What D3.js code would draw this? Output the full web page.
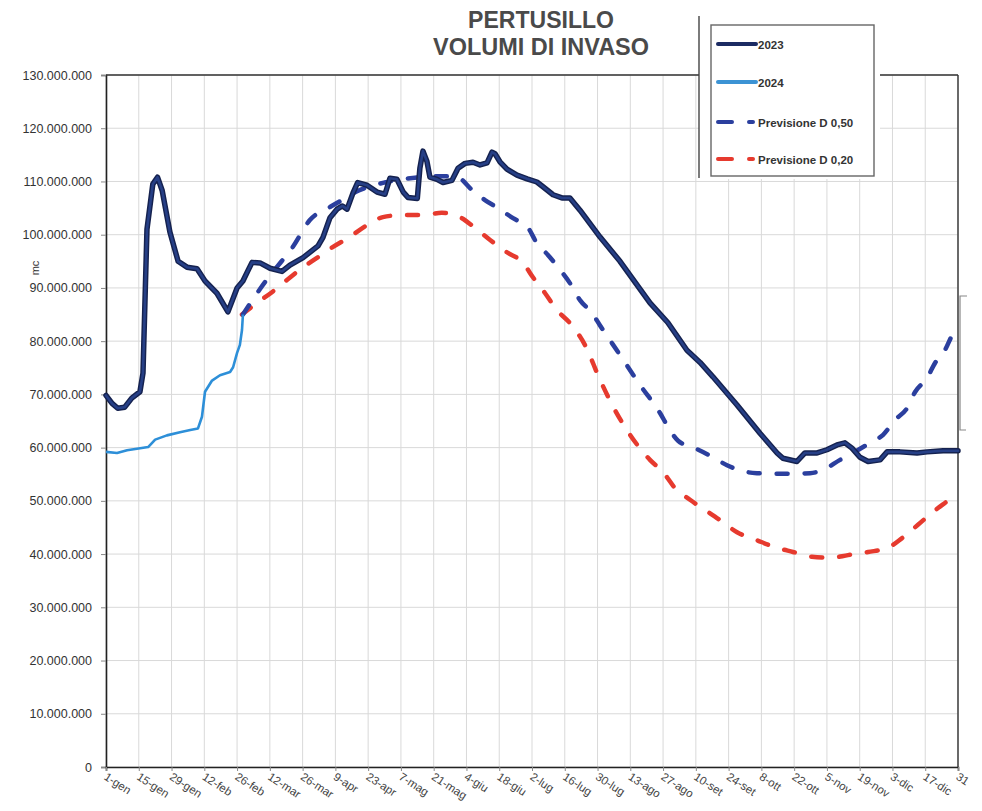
<!DOCTYPE html>
<html><head><meta charset="utf-8">
<script src="https://cdn.jsdelivr.net/npm/d3@7"></script>
<style>body{margin:0;background:#fff}svg{display:block}</style>
</head><body>
<svg id="chart" width="982" height="811"></svg>
<script>
// ---------- DATA ----------
const titleLines = ["PERTUSILLO", "VOLUMI DI INVASO"];
const yAxisLabel = "mc";
const xTickDays = [0,14,28,42,56,70,84,98,112,126,140,154,168,182,196,210,224,238,252,266,280,294,308,322,336,350,364];
const xTickLabels = ["1-gen","15-gen","29-gen","12-feb","26-feb","12-mar","26-mar","9-apr","23-apr","7-mag","21-mag","4-giu","18-giu","2-lug","16-lug","30-lug","13-ago","27-ago","10-set","24-set","8-ott","22-ott","5-nov","19-nov","3-dic","17-dic","31"];
const yTickValues = [0,10,20,30,40,50,60,70,80,90,100,110,120,130]; // milioni di mc
const legendLabels = ["2023","2024","Previsione D 0,50","Previsione D 0,20"];

const days2023 = [0,2.6,5,8,11,14.5,15.8,17.5,20,22,24,27.3,30.8,34.6,38.9,42.3,47.4,52.1,56,58.5,60.7,62.4,65.8,70.1,75.2,78.6,84.2,90.6,92.7,95.7,98.7,101,103,105.5,107.5,111.5,115.8,119.2,121.3,124.3,127,129,133,134.1,135.4,137.1,138.4,141.4,144,147.8,150.4,153.4,156.8,159.8,162.8,164.9,166.2,168.3,171.3,175.6,179.9,184.1,186.7,191,194.8,198.2,202.5,211,219.6,232.4,240,248.2,253.8,259.3,269.6,279.4,286.7,289.2,295.2,298.6,303.8,308,312.3,315.7,318.7,322.1,325.6,330.7,333.7,339.2,346.5,350.8,357.6,364];
const vol2023 = [69.8,68.3,67.4,67.6,69.3,70.5,74,101,109.5,110.8,108.3,100.5,95,93.9,93.6,91.3,89.0,85.5,90.0,91.3,93.3,94.8,94.7,93.7,93.1,94.3,95.7,97.9,99.5,103.2,104.8,105.4,104.8,107.8,109.8,109.3,108.0,107.6,110.6,110.4,108.0,107.0,106.8,112.5,115.7,113.8,110.8,110.4,109.8,110.2,112.5,113.4,113.6,113.1,113.5,115.5,115.2,113.7,112.3,111.2,110.5,109.9,109.0,107.5,106.9,106.9,104.6,99.6,95.0,87.2,83.5,78.3,76.0,73.3,68.0,62.7,59.0,58.0,57.4,59.0,59.0,59.6,60.5,60.9,59.9,58.2,57.4,57.7,59.2,59.2,59.0,59.2,59.4,59.4];

const days2024 = [0,4.7,9,13.2,18,21,26,31.6,36,39.3,41,42.3,45.3,48.7,53,54.3,56,57.2,58.1,58.5];
const vol2024 = [59.2,59.0,59.5,59.8,60.1,61.5,62.3,62.9,63.3,63.6,65.8,70.5,72.6,73.6,74.2,75.1,77.8,79.3,82.1,85.0];

const daysD50 = [58.5,65.8,70.9,75.2,79.5,87.2,95.7,100,108,119,130,142,150,156.4,161.9,167.5,173.9,180.3,184.1,188.8,194,198.2,202.5,207.6,211,219.6,228.1,236.7,239.7,244.4,251.6,258,265.3,271.7,278.1,285.8,293.1,300.8,306.3,313.6,319.1,326.4,332,337.1,342.2,345.6,350.8,354.2,358.4,361.9,364];
const volD50 = [85.0,89.8,92.8,95.1,97.5,102.8,105.2,106.3,108.3,109.8,110.6,111.0,110.8,108.4,106.5,105.0,103.1,101.3,98.4,96.2,93.4,90.9,87.7,85.3,83.0,77.4,71.8,66.5,64.2,61.3,59.9,58.5,56.7,55.6,55.2,55.1,55.1,55.2,55.8,57.7,59.0,60.9,62.4,65.2,67.4,70.4,73.1,75.9,78.3,81.5,83.0];

const daysD20 = [58.1,64.5,70.9,77.3,83.7,90.6,97,104.2,111.5,118.3,126.9,135,143.5,151.2,157.6,164.1,171.3,178.2,182.4,187.6,192.7,198.2,204.6,211.1,217.5,223.9,232.4,238,243.1,249.5,255.9,262.3,269.6,278.1,285.8,293.5,301.6,309.3,317,325.6,333.7,340.1,346.9,353.3,360.2,364];
const volD20 = [85.0,87.2,89.2,91.5,93.7,95.8,97.7,99.6,101.8,103.3,103.7,103.7,104.1,103.3,101.3,99.0,96.7,94.7,92.0,89.0,85.8,83.4,79.3,72.7,67.0,62.4,57.7,55.4,52.4,50.2,48.3,46.4,44.1,42.6,41.3,40.4,39.5,39.3,39.8,40.4,41.1,43.0,45.5,47.9,50.2,51.5];

// ---------- CHART ----------
const svg = d3.select("#chart");
const plot = {left:106, right:958, top:75, bottom:767};
const x = d3.scaleLinear().domain([0,364]).range([plot.left, plot.right]);
const y = d3.scaleLinear().domain([0,130]).range([plot.bottom, plot.top]);
const fmt = v => d3.format(",")(v*1e6).replace(/,/g,".");
const FONT = "'Liberation Sans', Arial, sans-serif";

// grid
const g = svg.append("g");
g.selectAll(".hg").data(yTickValues).join("line")
  .attr("x1", plot.left).attr("x2", plot.right)
  .attr("y1", d=>y(d)).attr("y2", d=>y(d))
  .attr("stroke","#d9d9d9").attr("stroke-width",1);
g.selectAll(".vg").data(xTickDays).join("line")
  .attr("x1", d=>x(d)).attr("x2", d=>x(d))
  .attr("y1", plot.top).attr("y2", plot.bottom)
  .attr("stroke","#d9d9d9").attr("stroke-width",1);

// y axis
const yAxis = d3.axisLeft(y).tickValues(yTickValues).tickFormat(fmt).tickSize(5).tickPadding(9);
const ya = svg.append("g").attr("transform",`translate(${plot.left},0)`).call(yAxis);
ya.select(".domain").attr("stroke","#222").attr("stroke-width",1.6);
ya.selectAll(".tick line").attr("stroke","#888");
ya.selectAll(".tick text").attr("font-family",FONT).attr("font-size","12.5px").attr("fill","#333");

// x axis
const xAxis = d3.axisBottom(x).tickValues(xTickDays).tickFormat((d,i)=>xTickLabels[i]).tickSize(4).tickPadding(0);
const xa = svg.append("g").attr("transform",`translate(0,${plot.bottom})`).call(xAxis);
xa.select(".domain").attr("stroke","#222").attr("stroke-width",1.6);
xa.selectAll(".tick line").attr("stroke","#888");
xa.selectAll(".tick text")
  .attr("font-family",FONT).attr("font-size","11.5px").attr("fill","#444")
  .attr("text-anchor","start").attr("dy",null).attr("y",null)
  .attr("transform","translate(1,5) rotate(33)")
  .attr("dominant-baseline","hanging");

// frame top & right
svg.append("line").attr("x1",plot.left).attr("x2",plot.right).attr("y1",plot.top).attr("y2",plot.top)
  .attr("stroke","#333").attr("stroke-width",1.4);
svg.append("line").attr("x1",plot.right).attr("x2",plot.right).attr("y1",plot.top).attr("y2",plot.bottom)
  .attr("stroke","#333").attr("stroke-width",1.4);
// scan bracket on the right edge
svg.append("path").attr("d",`M${plot.right+9},296 H${plot.right+2} V430 H${plot.right+8}`)
  .attr("fill","none").attr("stroke","#888").attr("stroke-width",1.2);

// y label
svg.append("text").attr("transform","translate(39,268) rotate(-90)")
  .attr("text-anchor","middle").attr("font-family",FONT).attr("font-size","11px").attr("fill","#333").text(yAxisLabel);

// lines
const mk = (days, vals) => days.map((d,i)=>[d, vals[i]]);
const lineGen = d3.line().x(d=>x(d[0])).y(d=>y(d[1])).curve(d3.curveMonotoneX);
const lineLin = d3.line().x(d=>x(d[0])).y(d=>y(d[1])).curve(d3.curveLinear);

svg.append("path").attr("d", lineGen(mk(daysD20, volD20)))
  .attr("fill","none").attr("stroke","#e63a2e").attr("stroke-width",4.5)
  .attr("stroke-dasharray","11,17").attr("stroke-linecap","round");
svg.append("path").attr("d", lineGen(mk(daysD50, volD50)))
  .attr("fill","none").attr("stroke","#2b3f9e").attr("stroke-width",4.5)
  .attr("stroke-dasharray","11,17").attr("stroke-linecap","round");
svg.append("path").attr("d", lineLin(mk(days2024, vol2024)))
  .attr("fill","none").attr("stroke","#2d8fd8").attr("stroke-width",2.6).attr("stroke-linejoin","round");
const p23 = lineLin(mk(days2023, vol2023));
svg.append("path").attr("d", p23).attr("fill","none").attr("stroke","#15224f").attr("stroke-width",5.5).attr("stroke-linejoin","round").attr("stroke-linecap","round");
svg.append("path").attr("d", p23).attr("fill","none").attr("stroke","#263f86").attr("stroke-width",2.6).attr("stroke-linejoin","round").attr("stroke-linecap","round");

// title
svg.selectAll(".title").data(titleLines).join("text")
  .attr("x",541).attr("y",(d,i)=>28+i*27)
  .attr("text-anchor","middle")
  .attr("font-family","'Liberation Sans Narrow','Arial Narrow','Liberation Sans',Arial,sans-serif")
  .attr("font-weight","bold").attr("font-size","23px").attr("fill","#4a4a4a")
  .attr("textLength",(d,i)=>i===0?146:216).attr("lengthAdjust","spacingAndGlyphs")
  .text(d=>d);

// legend
const lg = svg.append("g");
lg.append("rect").attr("x",699).attr("y",14).attr("width",181).attr("height",165).attr("fill","#fff");
lg.append("line").attr("x1",699).attr("x2",699).attr("y1",16).attr("y2",178).attr("stroke","#444").attr("stroke-width",1.4);
lg.append("rect").attr("x",711).attr("y",25).attr("width",163).attr("height",151)
  .attr("fill","#fff").attr("stroke","#666").attr("stroke-width",1.4);
const legRows = [
  {y:44, color:"#1c2b63", w:4, dash:null},
  {y:82, color:"#3c93d4", w:4, dash:null},
  {y:122, color:"#2b3f9e", w:4, dash:"14,17"},
  {y:159, color:"#e63a2e", w:4, dash:"14,17"}
];
legRows.forEach((r,i)=>{
  lg.append("line").attr("x1",718).attr("x2",r.dash?753:756).attr("y1",r.y).attr("y2",r.y)
    .attr("stroke",r.color).attr("stroke-width",r.w).attr("stroke-linecap","round")
    .attr("stroke-dasharray",r.dash);
  lg.append("text").attr("x",758).attr("y",r.y+4.5)
    .attr("font-family",FONT).attr("font-weight","bold").attr("font-size","11.5px").attr("fill","#333")
    .text(legendLabels[i]);
});
</script>
</body></html>
